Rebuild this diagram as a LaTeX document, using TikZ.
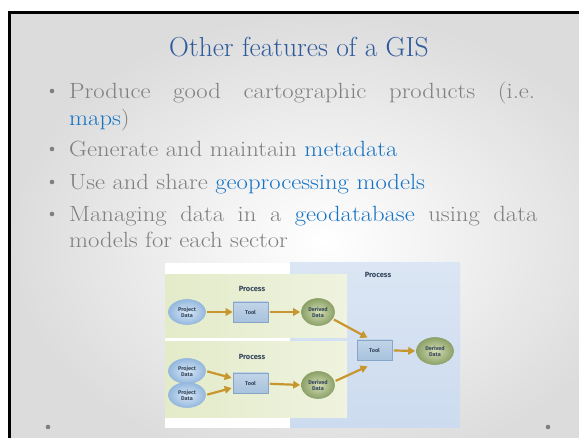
\documentclass[tikz,border=0pt]{standalone}
\usepackage{fontspec}
\usepackage{graphicx}
\newfontfamily\diagfont{Fira Sans}
\usetikzlibrary{arrows.meta,shapes.geometric}
\definecolor{slidegray}{HTML}{DCDCDC}
\definecolor{titleblue}{HTML}{2E5A9C}
\definecolor{bodygray}{HTML}{7F7F7F}
\definecolor{linkblue}{HTML}{1572C4}
\definecolor{arrowc}{HTML}{C8962E}
\definecolor{diagtext}{HTML}{34465C}
\definecolor{pdfill}{HTML}{C4DCF3}
\definecolor{pdedge}{HTML}{95B8DE}
\definecolor{ddfill}{HTML}{D4DDB4}
\definecolor{ddedge}{HTML}{8CA268}
\definecolor{toolfill}{HTML}{A8C2DE}
\definecolor{tooledge}{HTML}{86A5C7}
\definecolor{bluebg}{HTML}{CCDBEF}
\definecolor{greenL}{HTML}{E3EBC9}
\definecolor{greenR}{HTML}{EFF3DF}
\newcommand{\wide}[1]{\scalebox{1.12}[1]{#1}}
\tikzset{
  bodytext/.style={anchor=base west, inner sep=0pt, text=bodygray,
    font=\fontsize{22}{26}\selectfont},
  bulletdot/.style={circle, fill=bodygray, inner sep=0pt, minimum size=4.6pt},
  pdnode/.style={ellipse, draw=pdedge, line width=0.6pt, inner color=white!35!pdfill,
    outer color=pdedge, minimum width=37pt, minimum height=25pt, inner sep=0pt,
    align=center, text=diagtext, font=\diagfont\bfseries\fontsize{5.5}{6}\selectfont},
  ddnode/.style={ellipse, draw=ddedge, line width=0.6pt, inner color=ddfill,
    outer color=ddedge, minimum width=33pt, minimum height=27pt, inner sep=0pt,
    align=center, text=diagtext, font=\diagfont\bfseries\fontsize{5.5}{6}\selectfont},
  toolnode/.style={rectangle, draw=tooledge, line width=0.6pt, top color=toolfill!70!white,
    bottom color=toolfill, minimum width=35pt, minimum height=20pt, inner sep=0pt,
    text=diagtext, font=\diagfont\bfseries\fontsize{5.5}{6}\selectfont},
  proclabel/.style={text=diagtext, inner sep=0pt, font=\diagfont\bfseries\fontsize{7.5}{9}\selectfont},
  arr/.style={draw=arrowc, line width=2.2pt, -{Triangle[length=7pt,width=7.5pt]}, shorten <=1.5pt}
}
\begin{document}
\begin{tikzpicture}[x=1pt,y=-1pt]
\useasboundingbox (0,0) rectangle (579,438);
\clip (0,0) rectangle (579,438);
\fill[white] (0,0) rectangle (579,438);
% slide background
\shade[inner color=white, outer color=slidegray] (9.5,13) rectangle (640,470);
\draw[line width=3pt, line join=miter] (9.5,445) -- (9.5,13) -- (590,13);
% title
\node[anchor=base, inner sep=0pt, text=titleblue, font=\fontsize{27.5}{32}\selectfont] (title) at (299,57) {Other features of a GIS};
% bullets
\node[bulletdot] (b1) at (52,91) {};
\node[bulletdot] (b2) at (52,149) {};
\node[bulletdot] (b3) at (52,182) {};
\node[bulletdot] (b4) at (52,214) {};
\node[bodytext] (l1) at (69,99) {\wide{\makebox[416pt][s]{Produce good cartographic products (i.e.}}};
\node[bodytext] (l2) at (69,126) {\wide{{\color{linkblue}maps})}};
\node[bodytext] (l3) at (69,157) {\wide{Generate and maintain {\color{linkblue}metadata}}};
\node[bodytext] (l4) at (69,190) {\wide{Use and share {\color{linkblue}geoprocessing models}}};
\node[bodytext] (l5) at (69,222) {\wide{\makebox[418pt][s]{Managing data in a {\color{linkblue}geodatabase} using data}}};
\node[bodytext] (l6) at (69,248) {\wide{models for each sector}};
% footer dots
\node[bulletdot] (f1) at (48,427) {};
\node[bulletdot] (f2) at (548,427) {};
% diagram background
\fill[white] (165,263) rectangle (460,428);
\shade[top color=bluebg!70!white, bottom color=bluebg] (290,263) rectangle (460,428);
\shade[left color=greenL, right color=greenR] (165,275) rectangle (347,338);
\shade[left color=greenL, right color=greenR] (165,342) rectangle (347,418);
\node[proclabel] (ptop) at (378,275) {Process};
\node[proclabel] (p1) at (252,289) {Process};
\node[proclabel] (p2) at (252,357) {Process};
% nodes
\node[pdnode] (pd1) at (187,312) {Project\\Data};
\node[toolnode] (tool1) at (250.5,312) {Tool};
\node[ddnode] (dd1) at (318,312) {Derived\\Data};
\node[pdnode] (pd2a) at (187,371) {Project\\Data};
\node[pdnode] (pd2b) at (187,395) {Project\\Data};
\node[toolnode] (tool2) at (250.5,383) {Tool};
\node[ddnode] (dd2) at (318,385) {Derived\\Data};
\node[toolnode] (tool3) at (374.5,350) {Tool};
\node[ddnode, minimum width=37pt] (dd3) at (435,351) {Derived\\Data};
% connectors
\draw[arr] (pd1) -- (tool1);
\draw[arr] (tool1) -- ([xshift=-1pt]dd1.west);
\draw[arr] (dd1.-25) -- ([xshift=-7pt,yshift=2pt]tool3.north);
\draw[arr] (pd2a.east) -- ([yshift=5pt,xshift=-1pt]tool2.west);
\draw[arr] (pd2b.east) -- ([yshift=-5pt,xshift=-1pt]tool2.west);
\draw[arr] (tool2) -- ([xshift=-1pt]dd2.west);
\draw[arr] (dd2.12) -- ([xshift=-7pt,yshift=-6pt]tool3.south);
\draw[arr] (tool3) -- ([xshift=-1pt]dd3.west);
\end{tikzpicture}
\end{document}
